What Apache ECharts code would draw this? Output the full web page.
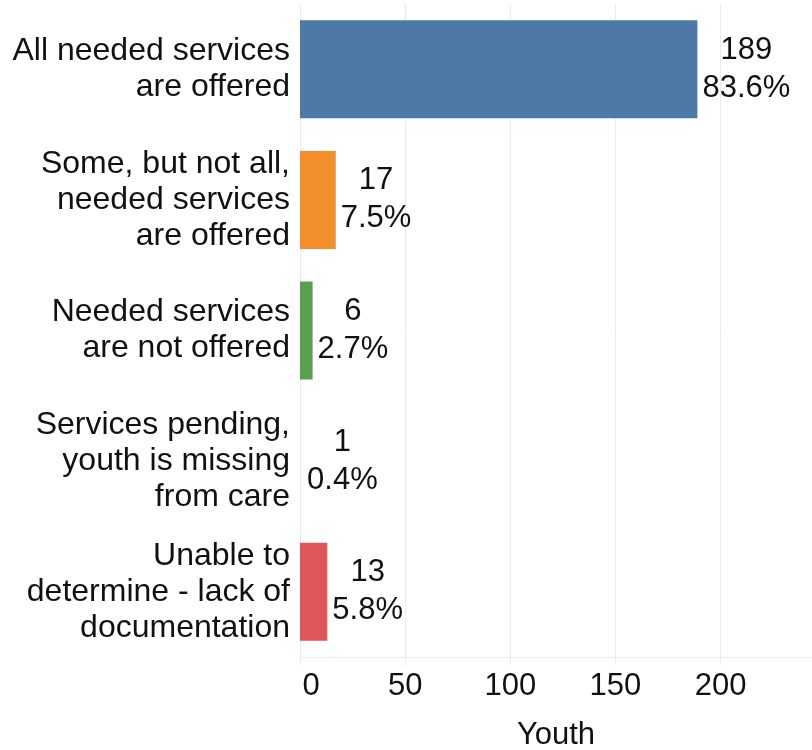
<!DOCTYPE html>
<html>
<head>
<meta charset="utf-8">
<script src="https://cdn.jsdelivr.net/npm/echarts@6/dist/echarts.min.js"></script>
<style>
html,body{margin:0;padding:0;background:#fff;}
#c{width:812px;height:750px;}
</style>
</head>
<body>
<div id="c"></div>
<script>
var categories = [
  "All needed services\nare offered",
  "Some, but not all,\nneeded services\nare offered",
  "Needed services\nare not offered",
  "Services pending,\nyouth is missing\nfrom care",
  "Unable to\ndetermine - lack of\ndocumentation"
];
var counts = [189, 17, 6, 1, 13];
var percents = ["83.6%", "7.5%", "2.7%", "0.4%", "5.8%"];
var colors = ["#4e79a7", "#f28e2b", "#59a14f", "rgba(255,255,255,0)", "#e15759"];
var xTicks = [0, 50, 100, 150, 200];

var FONT = "'Liberation Sans', Arial, sans-serif";
var TXT = "#111111";
var GRID = "#ebebeb";

var chart = echarts.init(document.getElementById('c'), null, {renderer: 'canvas'});
var data = counts.map(function (v, i) {
  return {value: v, itemStyle: {color: colors[i]}};
});
chart.setOption({
  animation: false,
  backgroundColor: '#ffffff',
  grid: {left: 300, right: 0, top: 4, bottom: 93, containLabel: false, outerBoundsMode: 'none'},
  xAxis: {
    type: 'value',
    min: 0,
    max: 243.5,
    interval: 50,
    name: 'Youth',
    nameLocation: 'middle',
    nameGap: 63,
    nameTextStyle: {fontSize: 31, color: TXT, fontFamily: FONT},
    axisLine: {show: true, lineStyle: {color: GRID, width: 1}},
    axisTick: {show: true, length: 8, lineStyle: {color: GRID}},
    splitLine: {show: true, lineStyle: {color: GRID, width: 1}},
    axisLabel: {
      fontSize: 31, color: TXT, fontFamily: FONT, margin: 14,
      showMaxLabel: false,
      formatter: function (v) {
        if (xTicks.indexOf(v) < 0) return '';
        return v === 0 ? '{z|0}' : String(v);
      },
      rich: {z: {fontSize: 31, color: TXT, fontFamily: FONT, padding: [0, 0, 0, 22]}}
    }
  },
  yAxis: {
    type: 'category',
    data: categories,
    inverse: true,
    axisLine: {show: false},
    axisTick: {show: false},
    splitLine: {show: false},
    axisLabel: {fontSize: 32, color: TXT, fontFamily: FONT, lineHeight: 36, margin: 10, align: 'right'}
  },
  series: [{
    type: 'bar',
    data: data,
    barCategoryGap: '25%',
    label: {
      show: true,
      position: 'right',
      distance: 5,
      formatter: function (p) {
        return '{a|' + counts[p.dataIndex] + '}\n{a|' + percents[p.dataIndex] + '}';
      },
      rich: {a: {fontSize: 31, color: TXT, fontFamily: FONT, lineHeight: 38, align: 'center'}}
    }
  }]
});
</script>
</body>
</html>
